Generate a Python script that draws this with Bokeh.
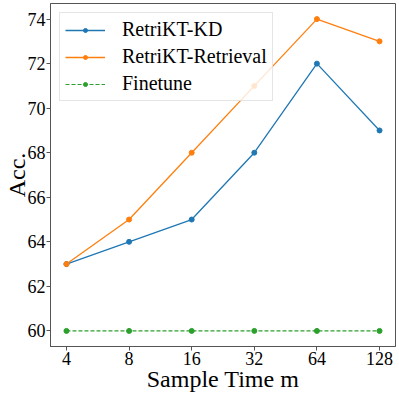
from bokeh.plotting import figure
from bokeh.models import Range1d, FixedTicker
from bokeh.embed import file_html
from bokeh.resources import INLINE

sample_times = ["4", "8", "16", "32", "64", "128"]
kd = [63, 64, 65, 68, 72, 69]
retrieval = [63, 65, 68, 71, 74, 73]
finetune = [60, 60, 60, 60, 60, 60]
y_ticks = [60, 62, 64, 66, 68, 70, 72, 74]

x = list(range(len(sample_times)))
FONT = "Liberation Serif"

p = figure(width=399, height=392, output_backend="svg", toolbar_location=None,
           x_range=Range1d(-0.255, len(x) - 1 + 0.255), y_range=Range1d(59.3, 74.7),
           min_border_left=50, min_border_right=4, min_border_top=0, min_border_bottom=49,
           styles={"position": "absolute", "left": "0px", "top": "3px"})

p.line(x, kd, line_color="#1f77b4", line_width=1.3, legend_label="RetriKT-KD")
p.scatter(x, kd, size=5, color="#1f77b4", legend_label="RetriKT-KD")
p.line(x, retrieval, line_color="#ff7f0e", line_width=1.3, legend_label="RetriKT-Retrieval")
p.scatter(x, retrieval, size=5, color="#ff7f0e", legend_label="RetriKT-Retrieval")
p.line(x, finetune, line_color="#2ca02c", line_width=1.1, line_dash="4 2", legend_label="Finetune")
p.scatter(x, finetune, size=5, color="#2ca02c", legend_label="Finetune")

p.xgrid.visible = False
p.ygrid.visible = False
p.outline_line_color = "#555555"
p.outline_line_width = 1

p.xaxis.ticker = FixedTicker(ticks=x)
p.xaxis.major_label_overrides = {i: s for i, s in zip(x, sample_times)}
p.yaxis.ticker = FixedTicker(ticks=y_ticks)

for ax in (p.xaxis, p.yaxis):
    ax.axis_line_color = "#555555"
    ax.major_tick_line_color = "#555555"
    ax.major_tick_out = 4
    ax.major_tick_in = 0
    ax.minor_tick_line_color = None
    ax.major_label_text_font = FONT
    ax.major_label_text_font_size = "18px"
    ax.major_label_text_color = "black"
    ax.major_label_standoff = 1
    ax.axis_label_text_font = FONT
    ax.axis_label_text_font_size = "24px"
    ax.axis_label_text_font_style = "normal"
    ax.axis_label_text_color = "black"

p.xaxis.axis_label = "Sample Time m"
p.yaxis.axis_label = "Acc."
p.xaxis.axis_label_standoff = -2
p.yaxis.axis_label_standoff = -5

lg = p.legend[0]
lg.location = "top_left"
lg.margin = 9
lg.padding = 5
lg.spacing = 4
lg.glyph_width = 40
lg.glyph_height = 10
lg.label_height = 20
lg.label_standoff = 17
lg.label_text_font = FONT
lg.label_text_font_size = "20px"
lg.label_text_color = "black"
lg.border_line_color = "#cccccc"
lg.border_line_width = 1
lg.background_fill_alpha = 0.8

open("out.html", "w").write(file_html(p, INLINE))
